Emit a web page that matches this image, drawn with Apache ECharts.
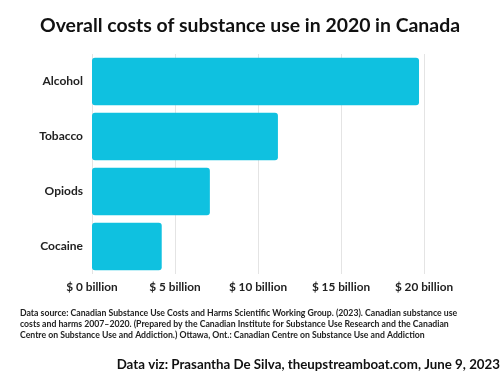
<!DOCTYPE html>
<html><head><meta charset="utf-8">
<script src="https://cdn.jsdelivr.net/npm/echarts@6/dist/echarts.min.js"></script>
<style>html,body{margin:0;padding:0;background:#fff}#c{width:500px;height:375px}</style>
</head><body><div id="c"></div>
<script>
const categories = ["Alcohol", "Tobacco", "Opiods", "Cocaine"];
const costs = [19.7, 11.2, 7.1, 4.2];
const tickValues = [0, 5, 10, 15, 20];
const titleText = "Overall costs of substance use in 2020 in Canada";
const sourceLines = [
  "Data source: Canadian Substance Use Costs and Harms Scientific Working Group. (2023). Canadian substance use",
  "costs and harms 2007–2020. (Prepared by the Canadian Institute for Substance Use Research and the Canadian",
  "Centre on Substance Use and Addiction.) Ottawa, Ont.: Canadian Centre on Substance Use and Addiction"
];
const creditText = "Data viz: Prasantha De Silva, theupstreamboat.com, June 9, 2023";

const FONT = "Lato";
const chart = echarts.init(document.getElementById('c'), null, {renderer: 'canvas'});
chart.setOption({
  animation: false,
  backgroundColor: '#fff',
  title: {
    text: titleText, left: 'center', top: 11,
    textStyle: {fontFamily: FONT, fontWeight: 700, fontSize: 19.4, color: '#111'}
  },
  grid: {left: 92, right: 76, top: 54, bottom: 101, containLabel: false},
  xAxis: {
    type: 'value', min: 0, max: 20, interval: 5,
    axisLine: {show: false}, axisTick: {show: false},
    splitLine: {show: true, lineStyle: {color: '#e4e4e4', width: 1}},
    axisLabel: {
      margin: 7, fontFamily: FONT, fontWeight: 700, fontSize: 11.8, color: '#222',
      formatter: v => tickValues.includes(v) ? '$ ' + v + ' billion' : ''
    }
  },
  yAxis: {
    type: 'category', data: categories, inverse: true,
    axisLine: {show: false}, axisTick: {show: false},
    axisLabel: {margin: 9, fontFamily: FONT, fontWeight: 700, fontSize: 12, color: '#222'}
  },
  series: [{
    type: 'bar', data: costs, barCategoryGap: '14%',
    itemStyle: {color: '#0fc1e0', borderRadius: 3}
  }],
  graphic: [
    ...sourceLines.map((t, i) => ({
      type: 'text', left: 20, top: 309 + i * 11,
      style: {text: t, font: '700 8.7px "' + FONT + '"', fill: '#222'}
    })),
    {type: 'text', right: 0, top: 358,
     style: {text: creditText, font: '700 13.3px "' + FONT + '"', fill: '#111'}}
  ]
});
</script></body></html>
